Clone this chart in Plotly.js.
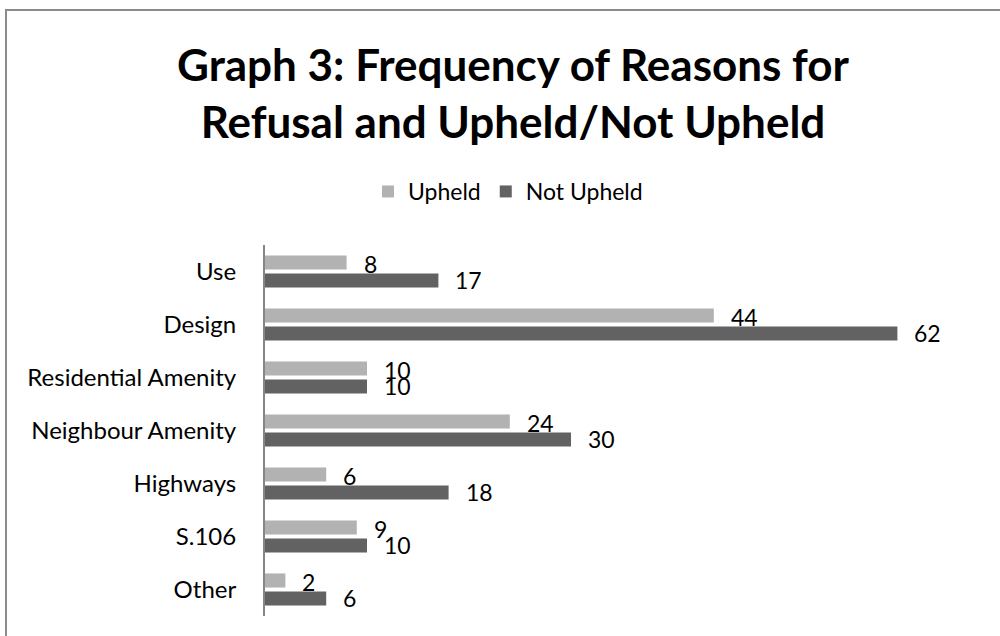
<!DOCTYPE html>
<html>
<head>
<meta charset="utf-8">
<script src="https://cdn.plot.ly/plotly-3.0.1.min.js"></script>
<style>
  html, body { margin: 0; padding: 0; background: #fff; overflow: hidden; }
  #chart { width: 1000px; height: 636px; }
  #frame { position: absolute; left: 5px; top: 9px; width: 2000px; height: 2000px;
           border-left: 2px solid #8c8c8c; border-top: 2px solid #8c8c8c; pointer-events: none; }
</style>
</head>
<body>
<div id="chart"></div>
<div id="frame"></div>
<script>
const categories = ["Use", "Design", "Residential Amenity", "Neighbour Amenity", "Highways", "S.106", "Other"];
const upheld = [8, 44, 10, 24, 6, 9, 2];
const notUpheld = [17, 62, 10, 30, 18, 10, 6];
const seriesNames = ["Upheld", "Not Upheld"];
const colors = ["#b2b2b2", "#626262"];

const FONT = "Lato, 'Open Sans', sans-serif";

const traces = [
  { type: "bar", orientation: "h", name: seriesNames[0], x: upheld, y: categories,
    marker: { color: colors[0] }, hoverinfo: "x+y" },
  { type: "bar", orientation: "h", name: seriesNames[1], x: notUpheld, y: categories,
    marker: { color: colors[1] }, hoverinfo: "x+y" }
];

const annotations = [];
[upheld, notUpheld].forEach((vals, si) => {
  vals.forEach((v, i) => {
    annotations.push({
      x: v, y: categories[i], xref: "x", yref: "y",
      text: String(v), showarrow: false, xanchor: "left", yanchor: "middle",
      xshift: 15, yshift: si === 0 ? 8 : -8,
      font: { family: FONT, size: 23, color: "#000" }
    });
  });
});

const layout = {
  width: 1000, height: 636,
  margin: { l: 265, r: 21, t: 245, b: 20 },
  paper_bgcolor: "#fff", plot_bgcolor: "#fff",
  title: {
    text: "<b>Graph 3: Frequency of Reasons for<br>Refusal and Upheld/Not Upheld</b>",
    font: { family: FONT, size: 44, color: "#000" },
    x: 0.513, xanchor: "center", xref: "container",
    y: 1 - 81 / 636, yanchor: "top", yref: "container"
  },
  showlegend: true,
  legend: {
    orientation: "h", x: 0.508, xanchor: "center", xref: "container",
    y: 1 - 170 / 636, yanchor: "top", yref: "container",
    font: { family: FONT, size: 23, color: "#000" },
    itemwidth: 30, traceorder: "normal"
  },
  barmode: "group", bargap: 0.32, bargroupgap: 0.22,
  xaxis: { range: [0, 70], showgrid: false, zeroline: false, showticklabels: false,
           ticks: "", showline: false, fixedrange: true },
  yaxis: { autorange: "reversed", type: "category", showgrid: false, zeroline: false,
           ticks: "", showline: true, linecolor: "#868686", linewidth: 2,
           ticklabelstandoff: 22,
           tickfont: { family: FONT, size: 24, color: "#000" } },
  annotations: annotations
};

Plotly.newPlot("chart", traces, layout, { displayModeBar: false, staticPlot: true });
</script>
</body>
</html>
